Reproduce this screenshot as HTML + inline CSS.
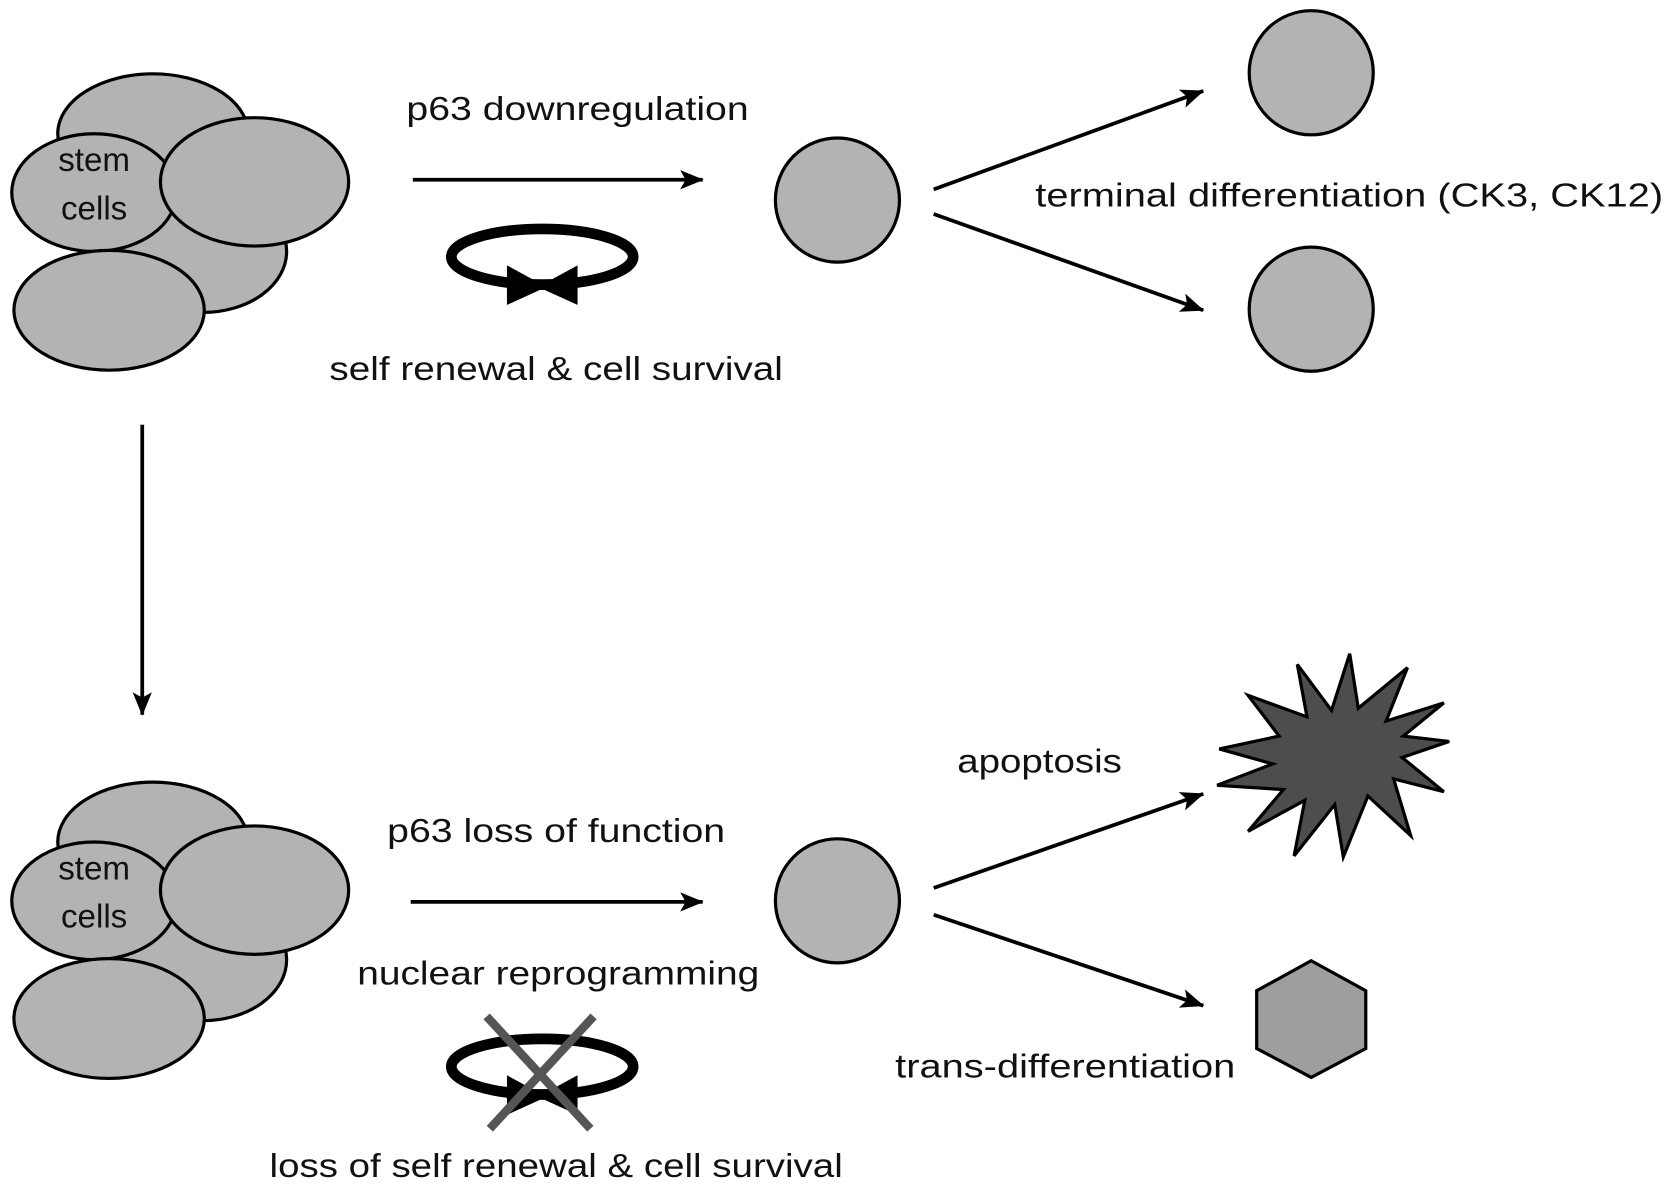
<!DOCTYPE html>
<html><head><meta charset="utf-8"><style>html,body{margin:0;padding:0;background:#fff}svg{display:block}</style></head>
<body>
<svg width="1677" height="1194" viewBox="0 0 1568 1116" preserveAspectRatio="none" xmlns="http://www.w3.org/2000/svg" font-family="Liberation Sans, sans-serif" font-size="31" fill="#111">
<defs>
<marker id="ah" markerWidth="22" markerHeight="18" refX="21" refY="9" orient="auto" markerUnits="userSpaceOnUse" viewBox="0 0 22 18"><path d="M0,0 L22,9 L0,18 L5,9 z" fill="#000"/></marker>
<g id="cluster" stroke="#000" stroke-width="3" fill="#b3b3b3">
<ellipse cx="143" cy="125" rx="89" ry="56"/>
<ellipse cx="190" cy="235" rx="78" ry="57"/>
<ellipse cx="88" cy="180" rx="77" ry="55"/>
<ellipse cx="238" cy="170" rx="88" ry="60"/>
<ellipse cx="102" cy="290" rx="89" ry="56"/>
</g>
<g id="loop">
<ellipse cx="507" cy="0" rx="85" ry="26" fill="none" stroke="#000" stroke-width="10"/>
<path d="M474,8 L507,26 L540,8 L540,45 L507,30 L474,45 z" fill="#000"/>
</g>
</defs>
<use href="#cluster"/>
<text x="88" y="160" text-anchor="middle">stem</text>
<text x="88" y="205" text-anchor="middle">cells</text>
<use href="#cluster" y="662"/>
<text x="88" y="822" text-anchor="middle">stem</text>
<text x="88" y="867" text-anchor="middle">cells</text>

<g stroke="#000" stroke-width="3.5" fill="none" marker-end="url(#ah)">
<line x1="386" y1="168" x2="657" y2="168"/>
<line x1="873" y1="177" x2="1125" y2="85"/>
<line x1="873" y1="200" x2="1125" y2="290"/>
<line x1="133" y1="397" x2="133" y2="668"/>
<line x1="384" y1="843" x2="657" y2="843"/>
<line x1="873" y1="830" x2="1125" y2="742"/>
<line x1="873" y1="855" x2="1125" y2="940"/>
</g>

<use href="#loop" y="240"/>
<use href="#loop" y="997"/>
<g stroke="#555" stroke-width="8">
<line x1="455" y1="950" x2="552" y2="1055"/>
<line x1="555" y1="950" x2="458" y2="1055"/>
</g>

<g stroke="#000" stroke-width="3" fill="#b3b3b3">
<circle cx="783" cy="187" r="58"/>
<circle cx="1226" cy="68" r="58"/>
<circle cx="1226" cy="289" r="58"/>
<circle cx="783" cy="842" r="58"/>
<polygon points="1226,898 1277,926 1277,980 1226,1007 1175,980 1175,926" fill="#9e9e9e"/>
<polygon fill="#4d4d4d" points="1262,611 1270,662 1316,624 1296,674 1350,657 1312,688 1355,693 1311,708 1350,740 1303,728 1319,781 1279,744 1256,801 1248,752 1210,800 1220,748 1167,777 1200,738 1138,734 1190,714 1140,700 1196,688 1167,650 1222,670 1213,621 1245,664"/>
</g>

<text x="540" y="112" text-anchor="middle" textLength="320" lengthAdjust="spacingAndGlyphs">p63 downregulation</text>
<text x="520" y="355" text-anchor="middle" textLength="424" lengthAdjust="spacingAndGlyphs">self renewal &amp; cell survival</text>
<text x="968" y="193" textLength="587" lengthAdjust="spacingAndGlyphs">terminal differentiation (CK3, CK12)</text>
<text x="520" y="787" text-anchor="middle" textLength="316" lengthAdjust="spacingAndGlyphs">p63 loss of function</text>
<text x="522" y="920" text-anchor="middle" textLength="376" lengthAdjust="spacingAndGlyphs">nuclear reprogramming</text>
<text x="520" y="1100" text-anchor="middle" textLength="536" lengthAdjust="spacingAndGlyphs">loss of self renewal &amp; cell survival</text>
<text x="972" y="722" text-anchor="middle" textLength="154" lengthAdjust="spacingAndGlyphs">apoptosis</text>
<text x="996" y="1007" text-anchor="middle" textLength="318" lengthAdjust="spacingAndGlyphs">trans-differentiation</text>
</svg>
</body></html>
